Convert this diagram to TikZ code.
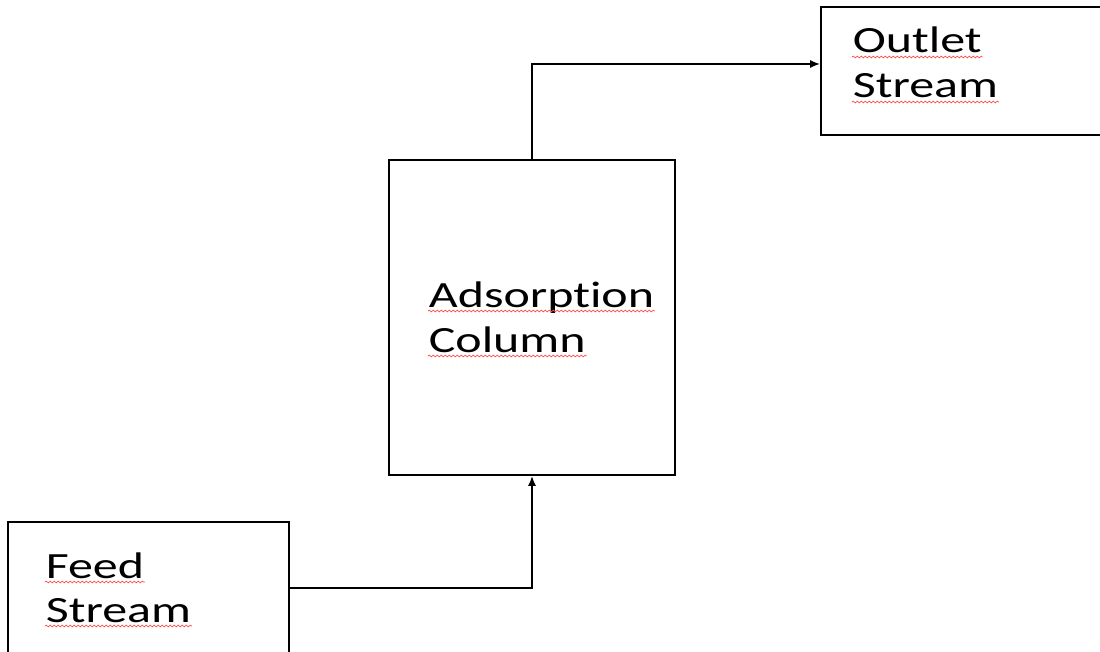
\documentclass[tikz,border=0pt]{standalone}
\usepackage{fontspec}
\setmainfont{Carlito}[FakeStretch=1.35,Ligatures=NoCommon]
\usetikzlibrary{arrows.meta,decorations.pathmorphing}

\begin{document}
\begin{tikzpicture}[x=1pt,y=-1pt,line width=1.7pt,
  unit/.style={draw,rectangle,inner sep=0pt},
  txt/.style={inner sep=0pt,anchor=base west,font=\fontsize{37}{45}\selectfont},
  squig/.style={red!70,line width=0.7pt,decorate,decoration={snake,amplitude=0.9pt,segment length=4pt}},
  flow/.style={-{Latex[length=10pt,width=8pt]}}]
\useasboundingbox (0,0) rectangle (1100,652);
\clip (0,0) rectangle (1100,652);
\node[unit,minimum width=281pt,minimum height=132pt] (feed) at (148.5,588) {};
\node[unit,minimum width=286pt,minimum height=315pt] (col) at (532,317.5) {};
\node[unit,minimum width=289pt,minimum height=128pt] (out) at (965.5,71) {};
\foreach \n/\x/\y/\t in %
{feedA/45/578/Feed,feedB/45/622/Stream,colA/428/307/Adsorption,colB/428/352/Column,outA/852/53/Outlet,outB/852/98/Stream} {
   \node[txt] (\n) at (\x,\y) {\t};
   \draw[squig] ([yshift=-4pt]\n.base west) -- ([yshift=-4pt]\n.base east);
}
\draw[flow] (feed.east) -| (col.south);
\draw[flow] (col.north) |- ([yshift=7pt]out.west);
\end{tikzpicture}
\end{document}
